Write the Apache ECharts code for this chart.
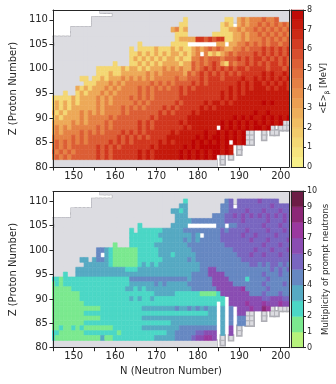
<!DOCTYPE html>
<html>
<head>
<meta charset="utf-8">
<script src="https://cdn.jsdelivr.net/npm/echarts@6/dist/echarts.min.js"></script>
<style>
html, body { margin: 0; padding: 0; background: #fff; }
#chart { width: 336px; height: 384px; }
</style>
</head>
<body>
<div id="chart"></div>
<script>
// one string per proton number Z, from Z = 112 down to Z = 80; one char per N = 145 ... 202
// 'w' = empty, '.' = grey (no value), 'g' = grey outlined cell, digit = colour level read from the map
const zFirst = 112
const nFirst = 145

const energyRows = [
    'wwwwwwwwww ww........ .......... .......... .......... ........',
    'wwwwwwwwww wwwww..... .......... .......... .......... ........',
    'wwwwwwwwww .......... .......... ..2....... ..22.34344 45445...',
    'wwwwwwwwww .......... .......... .22....... .232w34344 54545454',
    'wwwww..... .......... .........3 423....... .223343445 45454545',
    'wwwww..... .......... .......... 222......2 2222334344 54545454',
    '.......... .......... .......... 2333366565 6622334344 45454545',
    'w......... .......... .2.......2 222wwwwwww 33w3344545 45455455',
    '.......... .........2 .222232223 2322343454 5433445455 56565656',
    '.......... .........2 2323232323 323234w423 2345455556 56565656',
    '.......... .........2 3232323233 2322445455 5455565656 65656565',
    '.......... .....2...2 2323232333 3233545456 5325455656 56566565',
    '.......... .222222323 3232333434 3433545656 5656566566 66566656',
    '.......... .222322333 3334343444 4435456565 6565656666 67676676',
    '.......22. 2232333434 3434344444 5445556566 6566667667 67676767',
    '........22 2333434344 4444545454 5555656566 6666676767 76767676',
    '......3232 3334343444 4545454545 5656566666 6667676767 77676776',
    '...2..2323 3343434444 4545455555 5656666666 6767676777 77777777',
    '2222232333 3434344445 4545455555 5666666666 6767677777 77777777',
    '2323232333 3434344444 5454555555 6566666767 7676777777 78787777',
    '2323233333 3434444545 4545555656 5666667676 7777777777 77777777',
    '3232333434 3434444545 5555556565 6666767777 7777777778 77877777',
    '2323333434 4444545555 5555656666 6667777777 7777878787 78787878',
    '3333343434 4445455555 5656566666 6767777777 7878787878 787878gg',
    '3434344444 4545455555 5656566666 6676777777 w878787878 878gwggg',
    '3434444545 4545555656 5656666667 6777777877 8787878ggw wgwggwww',
    '4444454545 5555556565 6565666677 7777787878 8787878ggw wgwwwwww',
    '4545454545 5555656565 6666667676 7777878787 878w878ggw wwwwwwww',
    '4545455555 5656565666 6666767777 7787878888 8787wgwwww wwwwwwww',
    '5454545555 5656566666 6767677777 7878787878 8787wgwwww wwwwwwww',
    '4545455555 5656566666 6767677777 7878787878 wgwgwwwwww wwwwwwww',
    '.......... .......... .......... .......... wgwwwwwwww wwwwwwww',
    '.......... .......... .......... .......... wwwwwwwwww wwwwwwww'
]
// colour level -> mean beta energy in MeV
const energyLevels = { 2: 1.3, 3: 2.9, 4: 4.2, 5: 5.3, 6: 6.4, 7: 7.3, 8: 8 }

// digit = multiplicity bin (value lies between digit and digit + 1)
const multiplicityRows = [
    'wwwwwwwwww ww........ .......... .......... .......... ........',
    'wwwwwwwwww wwwww..... .......... .......... .......... ........',
    'wwwwwwwwww .......... .......... ..2....... ..45.55555 65555...',
    'wwwwwwwwww .......... .......... .33....... .445w55555 55565555',
    'wwwww..... .......... .........3 323....... .445555655 56555655',
    'wwwww..... .......... .......... 333......4 4455656565 65656565',
    '.......... .......... .......... 3333444444 4455556555 55655565',
    'w......... .......... .2.......3 333wwwwwww 44w4455555 56555655',
    '.......... .........2 .222222333 3344444444 4545555655 55655565',
    '.......... .........2 2222223333 333343w444 4555556556 55556555',
    '.......... .........2 2222222333 3343434444 4555555565 55655556',
    '.......... .....1...2 2222233333 3334444444 4455555555 56555655',
    '.......... .443211111 1222223333 3333444444 4444555556 55565556',
    '.......... .4w3211111 1222223332 3333344444 4444455565 56555655',
    '.......33. 3443211111 1222222333 3334344444 4444445555 55555555',
    '........33 3333211111 1232323333 3333334444 4444444455 45455454',
    '......3333 3333333322 2333333333 3333334466 4444444444 44454545',
    '...2..3333 3333333333 3333333333 3333444466 6644444444 45444544',
    '2212222222 2222222224 4444444444 4443444446 6664444244 44544444',
    '1212222222 2222222223 3333343433 3334444446 6666444444 45444454',
    '1111122222 2222222233 2323333333 3333444444 6666667444 44544444',
    '1111111222 2222222222 2222233333 2222221111 2666666644 45444544',
    '1111111222 2222222223 2322322222 2222222222 22w6666666 65566655',
    '1111111122 2222222222 2222222222 2222222222 w2w6666766 67666766',
    '1111111111 1122222222 2233333333 4334343433 w3w4w66676 687gwggg',
    '1111111122 2222222222 2222222222 2222222233 w3w4w66ggw wgwggwww',
    '1111111111 1122222222 2233333333 3333333333 w3w4w44ggw wgwwwwww',
    '1111111122 2222222222 2222222223 3333333333 w3w4w44ggw wwwwwwww',
    '1121121211 1111122222 2233333333 3444444444 w3w6wgwwww wwwwwwww',
    '2211111122 2222221222 2222222233 4444455666 w3w6wgwwww wwwwwwww',
    '2111111111 1131122222 2222233333 4444566776 wgwgwwwwww wwwwwwww',
    '.......... .......... .......... .......... wgwwwwwwww wwwwwwww',
    '.......... .......... .......... .......... wwwwwwwwww wwwwwwww'
]

const nTicks = [145, 150, 155, 160, 165, 170, 175, 180, 185, 190, 195, 200]
const nLabels = [150, 160, 170, 180, 190, 200]
const zTicks = [80, 85, 90, 95, 100, 105, 110]
const energyTicks = [0, 1, 2, 3, 4, 5, 6, 7, 8]
const multiplicityTicks = [0, 1, 2, 3, 4, 5, 6, 7, 8, 9, 10]
const energySteps = [0, 0.5, 1, 1.5, 2, 2.5, 3, 3.5, 4, 4.5, 5, 5.5, 6, 6.5, 7, 7.5]
const multiplicitySteps = [0, 1, 2, 3, 4, 5, 6, 7, 8, 9]

const energyColors = ['#f7f48d', '#f5df79', '#f1c466', '#eca656', '#e68847', '#df6839', '#d6452a', '#c9220f', '#bc0303']
const multiplicityColors = ['#b6f27b', '#7be98f', '#4bd7c6', '#56aac3', '#6688c2', '#7966c0', '#8a4db2', '#9a389f', '#8c2877', '#6d1c46']

const grey = '#dcdce1'
const greyEdge = '#aeaeb5'
const ink = '#262626'
const font = 'DejaVu Sans'

function parseRows (rows, toValue) {
    const cells = []
    const blank = []
    rows.forEach((row, r) => {
        const z = zFirst - r
        row.replace(/ /g, '').split('').forEach((ch, i) => {
            const n = nFirst + i
            if (ch === 'w') return
            if (ch === '.') blank.push([n, z, 0])
            else if (ch === 'g') blank.push([n, z, 1])
            else cells.push([n, z, toValue(ch)])
        })
    })
    return { cells, blank }
}

const energy = parseRows(energyRows, ch => energyLevels[ch])
const multiplicity = parseRows(multiplicityRows, ch => +ch + 0.5)

function cellRect (api, grow) {
    const n = api.value(0)
    const z = api.value(1)
    const a = api.coord([n - 0.5, z + 0.5])
    const b = api.coord([n + 0.5, z - 0.5])
    return { x: a[0] - grow, y: a[1] - grow, width: b[0] - a[0] + 2 * grow, height: b[1] - a[1] + 2 * grow }
}

// outline pass first (lower z), slightly enlarged plain fill on top,
// so only the outer edge of the grey area keeps a thin line
function greySeries (data, axis, outline) {
    return {
        type: 'custom', xAxisIndex: axis, yAxisIndex: axis, clip: true, silent: true,
        z: outline ? 1 : 2,
        data,
        renderItem (params, api) {
            const edged = api.value(2) === 1
            if (outline) {
                return { type: 'rect', shape: cellRect(api, 0), style: { fill: grey, stroke: greyEdge, lineWidth: 2.4 } }
            }
            return {
                type: 'rect', shape: cellRect(api, edged ? 0 : 0.6),
                style: edged ? { fill: grey, stroke: greyEdge, lineWidth: 0.8 } : { fill: grey }
            }
        }
    }
}

function cellSeries (data, axis) {
    return {
        type: 'custom', xAxisIndex: axis, yAxisIndex: axis, clip: true, silent: true, z: 3,
        data,
        renderItem (params, api) {
            const c = api.visual('color')
            return { type: 'rect', shape: cellRect(api, 0), style: { fill: c, stroke: c, lineWidth: 0.6 } }
        }
    }
}

function barSeries (steps, size, axis) {
    return {
        type: 'custom', xAxisIndex: axis, yAxisIndex: axis, silent: true, z: 3,
        data: steps.map(v => [v, v + size, v + size / 2]),
        renderItem (params, api) {
            const a = api.coord([0, api.value(1)])
            const b = api.coord([1, api.value(0)])
            const c = api.visual('color')
            return { type: 'rect', shape: { x: a[0], y: a[1], width: b[0] - a[0], height: b[1] - a[1] }, style: { fill: c, stroke: c, lineWidth: 0.5 } }
        }
    }
}

const frameLine = { show: true, onZero: false, lineStyle: { color: ink, width: 1 } }

function frame (gridIndex, position, min, max) {
    return {
        type: 'value', gridIndex, position, min, max, z: 5,
        axisLine: frameLine, axisTick: { show: false }, axisLabel: { show: false }, splitLine: { show: false }
    }
}

function nAxis (gridIndex, name) {
    return {
        type: 'value', gridIndex, position: 'bottom', min: 145, max: 202, z: 5,
        name, nameLocation: 'middle', nameGap: 19,
        nameTextStyle: { fontFamily: font, fontSize: 10, color: ink },
        axisLine: frameLine,
        axisTick: { show: true, length: 3.5, customValues: nTicks, lineStyle: { color: ink } },
        axisLabel: { customValues: nLabels, fontFamily: font, fontSize: 10, color: ink, margin: 4 },
        splitLine: { show: false }
    }
}

function zAxis (gridIndex) {
    return {
        type: 'value', gridIndex, position: 'left', min: 80, max: 112, z: 5,
        name: 'Z (Proton Number)', nameLocation: 'middle', nameRotate: 90, nameGap: 28,
        nameTextStyle: { fontFamily: font, fontSize: 10, color: ink },
        axisLine: frameLine,
        axisTick: { show: true, length: 3.5, customValues: zTicks, lineStyle: { color: ink } },
        axisLabel: { customValues: zTicks, fontFamily: font, fontSize: 10, color: ink, margin: 5 },
        splitLine: { show: false }
    }
}

function barAxis (gridIndex, max, ticks, name, rich) {
    return {
        type: 'value', gridIndex, position: 'right', min: 0, max, interval: 1, z: 5,
        name, nameLocation: 'middle', nameRotate: 90, nameGap: 15,
        nameTextStyle: { fontFamily: font, fontSize: 8.5, color: ink, rich },
        axisLine: frameLine,
        axisTick: { show: true, length: 3, customValues: ticks, lineStyle: { color: ink } },
        axisLabel: { customValues: ticks, fontFamily: font, fontSize: 8, color: ink, margin: 4 },
        splitLine: { show: false }
    }
}

const chart = echarts.init(document.getElementById('chart'))

chart.setOption({
    animation: false,
    grid: [
        { left: 45, top: 10, width: 244, height: 157 },
        { left: 45, top: 191.6, width: 244, height: 156.1 },
        { left: 291, top: 10, width: 12, height: 157 },
        { left: 291, top: 191, width: 12, height: 156.7 }
    ],
    xAxis: [
        nAxis(0, ''), frame(0, 'top', 145, 202),
        nAxis(1, 'N (Neutron Number)'), frame(1, 'top', 145, 202),
        frame(2, 'bottom', 0, 1), frame(2, 'top', 0, 1),
        frame(3, 'bottom', 0, 1), frame(3, 'top', 0, 1)
    ],
    yAxis: [
        zAxis(0), frame(0, 'right', 80, 112),
        zAxis(1), frame(1, 'right', 80, 112),
        frame(2, 'left', 0, 8),
        barAxis(2, 8, energyTicks, '{a|<E>}{s|β} {a|[MeV]}', {
            a: { fontFamily: font, fontSize: 8.5, color: ink },
            s: { fontFamily: font, fontSize: 6, color: ink, padding: [6, 0, 0, 0] }
        }),
        frame(3, 'left', 0, 10),
        barAxis(3, 10, multiplicityTicks, 'Multiplicity of prompt neutrons')
    ],
    visualMap: [
        {
            type: 'continuous', show: false, min: 0, max: 8, dimension: 2,
            seriesIndex: [2, 6], inRange: { color: energyColors }
        },
        {
            type: 'piecewise', show: false, dimension: 2, seriesIndex: [5, 7],
            pieces: multiplicitySteps.map((v, i) => ({ gte: v, lt: v + 1, color: multiplicityColors[i] }))
        }
    ],
    series: [
        greySeries(energy.blank, 0, true),
        greySeries(energy.blank, 0, false),
        cellSeries(energy.cells, 0),
        greySeries(multiplicity.blank, 2, true),
        greySeries(multiplicity.blank, 2, false),
        cellSeries(multiplicity.cells, 2),
        barSeries(energySteps, 0.5, 4),
        barSeries(multiplicitySteps, 1, 6)
    ]
})
</script>
</body>
</html>
